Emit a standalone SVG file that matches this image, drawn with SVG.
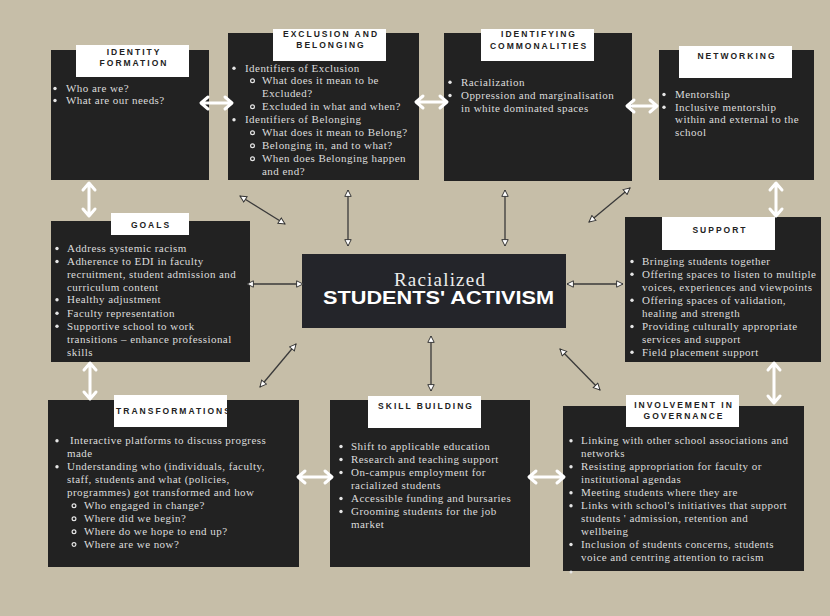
<svg xmlns="http://www.w3.org/2000/svg" width="830" height="616" viewBox="0 0 830 616">
<style>
.box{fill:#222222}
.lbl{fill:#ffffff}
.ttl{font-family:"Liberation Sans",Arial,sans-serif;font-weight:bold;font-size:8.5px;letter-spacing:2px;fill:#222;text-anchor:middle}
.tx{font-family:"Liberation Serif","Times New Roman",serif;font-size:11px;letter-spacing:0.45px;fill:#dcdcdc}
.dot{fill:#e6e6e6}
.sub{fill:none;stroke:#e6e6e6;stroke-width:1.2}
.con{stroke:#3a3a3a;stroke-width:1.3;fill:none;marker-start:url(#tri);marker-end:url(#tri)}
.wa{stroke:#ffffff;stroke-width:3;fill:none;stroke-linecap:round;stroke-linejoin:round}
</style>
<defs>
<marker id="tri" viewBox="0 0 10 10" refX="9" refY="5" markerWidth="8" markerHeight="8" markerUnits="userSpaceOnUse" orient="auto-start-reverse">
<path d="M1,1 L9,5 L1,9 Z" fill="#ffffff" stroke="#333" stroke-width="1.2"/>
</marker>
</defs>
<rect x="0" y="0" width="830" height="616" fill="#c6bea8"/>

<g id="identity-formation">
<rect class="box" x="51" y="50" width="158" height="130"/>
<rect class="lbl" x="76" y="45" width="113" height="32"/>
<text class="ttl" x="134" y="54.5">IDENTITY</text>
<text class="ttl" x="134" y="65.7">FORMATION</text>
<circle class="dot" cx="55" cy="88.5" r="1.7"/><text class="tx" x="66" y="92">Who are we?</text>
<circle class="dot" cx="55" cy="100.5" r="1.7"/><text class="tx" x="66" y="104">What are our needs?</text>
</g>

<g id="exclusion-belonging">
<rect class="box" x="228" y="33" width="191" height="147"/>
<rect class="lbl" x="273" y="29" width="113" height="32"/>
<text class="ttl" x="331" y="37.3">EXCLUSION AND</text>
<text class="ttl" x="331" y="48.3">BELONGING</text>
<circle class="dot" cx="234" cy="68.2" r="1.7"/><text class="tx" x="245" y="71.7">Identifiers of Exclusion</text>
<circle class="sub" cx="252.5" cy="80.8" r="1.9"/><text class="tx" x="262" y="84.3">What does it mean to be</text>
<text class="tx" x="262" y="97.3">Excluded?</text>
<circle class="sub" cx="252.5" cy="106.8" r="1.9"/><text class="tx" x="262" y="110.3">Excluded in what and when?</text>
<circle class="dot" cx="234" cy="119.8" r="1.7"/><text class="tx" x="245" y="123.3">Identifiers of Belonging</text>
<circle class="sub" cx="252.5" cy="132.8" r="1.9"/><text class="tx" x="262" y="136.3">What does it mean to Belong?</text>
<circle class="sub" cx="252.5" cy="145.8" r="1.9"/><text class="tx" x="262" y="149.3">Belonging in, and to what?</text>
<circle class="sub" cx="252.5" cy="158.8" r="1.9"/><text class="tx" x="262" y="162.3">When does Belonging happen</text>
<text class="tx" x="262" y="175">and end?</text>
</g>

<g id="identifying-commonalities">
<rect class="box" x="444" y="33" width="188" height="148"/>
<rect class="lbl" x="481" y="29" width="113" height="32"/>
<text class="ttl" x="539" y="37.3">IDENTIFYING</text>
<text class="ttl" x="539" y="49">COMMONALITIES</text>
<circle class="dot" cx="450" cy="82.2" r="1.7"/><text class="tx" x="461" y="85.7">Racialization</text>
<circle class="dot" cx="450" cy="95.5" r="1.7"/><text class="tx" x="461" y="99">Oppression and marginalisation</text>
<text class="tx" x="461" y="111.7">in white dominated spaces</text>
</g>

<g id="networking">
<rect class="box" x="659" y="50" width="155" height="130"/>
<rect class="lbl" x="679" y="46" width="113" height="32"/>
<text class="ttl" x="737" y="59">NETWORKING</text>
<circle class="dot" cx="664" cy="94.5" r="1.7"/><text class="tx" x="675" y="98">Mentorship</text>
<circle class="dot" cx="664" cy="107.2" r="1.7"/><text class="tx" x="675" y="110.7">Inclusive mentorship</text>
<text class="tx" x="675" y="123.3">within and external to the</text>
<text class="tx" x="675" y="136.3">school</text>
</g>

<g id="goals">
<rect class="box" x="51" y="221" width="199" height="141"/>
<rect class="lbl" x="111" y="213" width="78" height="22"/>
<text class="ttl" x="151" y="228.3">GOALS</text>
<circle class="dot" cx="57" cy="248.5" r="1.7"/><text class="tx" x="67" y="252">Address systemic racism</text>
<circle class="dot" cx="57" cy="261.5" r="1.7"/><text class="tx" x="67" y="265">Adherence to EDI in faculty</text>
<text class="tx" x="67" y="277.7">recruitment, student admission and</text>
<text class="tx" x="67" y="290.7">curriculum content</text>
<circle class="dot" cx="57" cy="299.8" r="1.7"/><text class="tx" x="67" y="303.3">Healthy adjustment</text>
<circle class="dot" cx="57" cy="313.2" r="1.7"/><text class="tx" x="67" y="316.7">Faculty representation</text>
<circle class="dot" cx="57" cy="326.2" r="1.7"/><text class="tx" x="67" y="329.7">Supportive school to work</text>
<text class="tx" x="67" y="342.7">transitions – enhance professional</text>
<text class="tx" x="67" y="355.7">skills</text>
</g>

<g id="support">
<rect class="box" x="625" y="217" width="196" height="145"/>
<rect class="lbl" x="662" y="217" width="113" height="33"/>
<text class="ttl" x="720" y="233.3">SUPPORT</text>
<circle class="dot" cx="632" cy="261.5" r="1.7"/><text class="tx" x="642" y="265">Bringing students together</text>
<circle class="dot" cx="632" cy="274.2" r="1.7"/><text class="tx" x="642" y="277.7">Offering spaces to listen to multiple</text>
<text class="tx" x="642" y="291">voices, experiences and viewpoints</text>
<circle class="dot" cx="632" cy="300.2" r="1.7"/><text class="tx" x="642" y="303.7">Offering spaces of validation,</text>
<text class="tx" x="642" y="316.7">healing and strength</text>
<circle class="dot" cx="632" cy="326.5" r="1.7"/><text class="tx" x="642" y="330">Providing culturally appropriate</text>
<text class="tx" x="642" y="342.7">services and support</text>
<circle class="dot" cx="632" cy="352.2" r="1.7"/><text class="tx" x="642" y="355.7">Field placement support</text>
</g>

<g id="center">
<rect x="302" y="254" width="264" height="74" fill="#24252a"/>
<text x="440" y="286" text-anchor="middle" font-family="'Liberation Serif','Times New Roman',serif" font-size="19" letter-spacing="1.2" fill="#ececec">Racialized</text>
<text x="323" y="304" textLength="231" lengthAdjust="spacingAndGlyphs" font-family="'Liberation Sans',Arial,sans-serif" font-weight="bold" font-size="18" fill="#ffffff">STUDENTS' ACTIVISM</text>
</g>

<g id="transformations">
<rect class="box" x="48" y="400" width="251" height="167"/>
<rect class="lbl" x="114" y="395" width="113" height="32"/>
<text class="ttl" x="174" y="414">TRANSFORMATIONS</text>
<circle class="dot" cx="57" cy="440.8" r="1.7"/><text class="tx" x="70" y="444.3">Interactive platforms to discuss progress</text>
<text class="tx" x="67" y="457.3">made</text>
<circle class="dot" cx="57" cy="466.8" r="1.7"/><text class="tx" x="67" y="470.3">Understanding who (individuals, faculty,</text>
<text class="tx" x="67" y="483.3">staff, students and what (policies,</text>
<text class="tx" x="67" y="496.3">programmes) got transformed and how</text>
<circle class="sub" cx="74" cy="505.8" r="1.9"/><text class="tx" x="84" y="509.3">Who engaged in change?</text>
<circle class="sub" cx="74" cy="518.8" r="1.9"/><text class="tx" x="84" y="522.3">Where did we begin?</text>
<circle class="sub" cx="74" cy="531.8" r="1.9"/><text class="tx" x="84" y="535.3">Where do we hope to end up?</text>
<circle class="sub" cx="74" cy="544.5" r="1.9"/><text class="tx" x="84" y="548">Where are we now?</text>
</g>

<g id="skill-building">
<rect class="box" x="330" y="400" width="200" height="167"/>
<rect class="lbl" x="368" y="396" width="113" height="32"/>
<text class="ttl" x="426" y="409">SKILL BUILDING</text>
<circle class="dot" cx="341" cy="446.5" r="1.7"/><text class="tx" x="351" y="450">Shift to applicable education</text>
<circle class="dot" cx="341" cy="459.5" r="1.7"/><text class="tx" x="351" y="463">Research and teaching support</text>
<circle class="dot" cx="341" cy="472.5" r="1.7"/><text class="tx" x="351" y="476">On-campus employment for</text>
<text class="tx" x="351" y="489">racialized students</text>
<circle class="dot" cx="341" cy="498.5" r="1.7"/><text class="tx" x="351" y="502">Accessible funding and bursaries</text>
<circle class="dot" cx="341" cy="511.5" r="1.7"/><text class="tx" x="351" y="515">Grooming students for the job</text>
<text class="tx" x="351" y="527.7">market</text>
</g>

<g id="involvement-governance">
<rect class="box" x="563" y="406" width="241" height="165"/>
<rect class="lbl" x="626" y="395" width="113" height="32"/>
<text class="ttl" x="684" y="408">INVOLVEMENT IN</text>
<text class="ttl" x="684" y="419">GOVERNANCE</text>
<circle class="dot" cx="571" cy="440.8" r="1.7"/><text class="tx" x="581" y="444.3">Linking with other school associations and</text>
<text class="tx" x="581" y="457.3">networks</text>
<circle class="dot" cx="571" cy="466.8" r="1.7"/><text class="tx" x="581" y="470.3">Resisting appropriation for faculty or</text>
<text class="tx" x="581" y="483.3">institutional agendas</text>
<circle class="dot" cx="571" cy="492.8" r="1.7"/><text class="tx" x="581" y="496.3">Meeting students where they are</text>
<circle class="dot" cx="571" cy="505.8" r="1.7"/><text class="tx" x="581" y="509.3">Links with school's initiatives that support</text>
<text class="tx" x="581" y="522.3">students ' admission, retention and</text>
<text class="tx" x="581" y="535.3">wellbeing</text>
<circle class="dot" cx="571" cy="544.5" r="1.7"/><text class="tx" x="581" y="548">Inclusion of students concerns, students</text>
<text class="tx" x="581" y="561">voice and centring attention to racism</text>
<circle class="dot" cx="571" cy="572" r="1.5"/>
</g>

<g id="connectors">
<line class="con" x1="240" y1="196" x2="285" y2="224"/>
<line class="con" x1="348" y1="190" x2="348" y2="246"/>
<line class="con" x1="505" y1="190" x2="505" y2="246"/>
<line class="con" x1="630" y1="188" x2="589" y2="222"/>
<line class="con" x1="247" y1="284" x2="303" y2="284"/>
<line class="con" x1="567" y1="284" x2="623" y2="284"/>
<line class="con" x1="296" y1="344" x2="260" y2="387"/>
<line class="con" x1="431" y1="336" x2="431" y2="391"/>
<line class="con" x1="560" y1="349" x2="600" y2="390"/>
<path class="wa" d="M202,103 H231 M208,97 L201,103 L208,109 M225,97 L232,103 L225,109"/>
<path class="wa" d="M417,102 H446 M423,96 L416,102 L423,108 M440,96 L447,102 L440,108"/>
<path class="wa" d="M628,106 H656 M634,100 L627,106 L634,112 M650,100 L657,106 L650,112"/>
<path class="wa" d="M89,184 V215 M83,190 L89,183 L95,190 M83,209 L89,216 L95,209"/>
<path class="wa" d="M776,184 V215 M770,190 L776,183 L782,190 M770,209 L776,216 L782,209"/>
<path class="wa" d="M90,364 V398 M84,370 L90,363 L96,370 M84,392 L90,399 L96,392"/>
<path class="wa" d="M774,364 V402 M768,370 L774,363 L780,370 M768,396 L774,403 L780,396"/>
<path class="wa" d="M299,477 H331 M305,471 L298,477 L305,483 M325,471 L332,477 L325,483"/>
<path class="wa" d="M530,477 H563 M536,471 L529,477 L536,483 M557,471 L564,477 L557,483"/>
</g>
</svg>
